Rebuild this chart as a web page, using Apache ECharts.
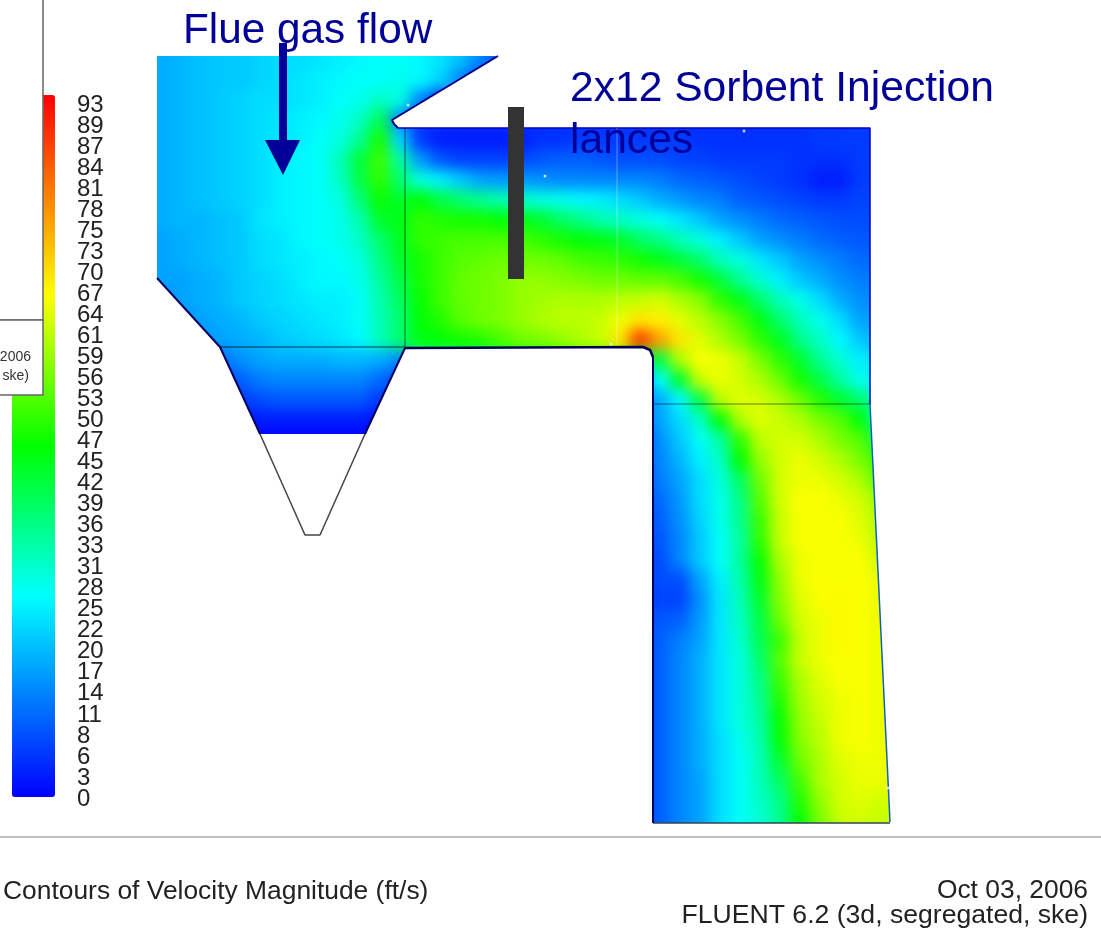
<!DOCTYPE html>
<html>
<head>
<meta charset="utf-8">
<title>Contours of Velocity Magnitude</title>
<script src="https://cdn.jsdelivr.net/npm/echarts@6/dist/echarts.min.js"></script>
<style>
  html, body { margin: 0; padding: 0; background: #fff; }
  #main { width: 1101px; height: 942px; }
</style>
</head>
<body>
<div id="main"></div>
<script>
var _ = null;

// velocity (ft/s), one row per 20px
// upper part: y = 40..420, x = 140..880
var upperDuctRows = [
  [17,18,19,20,21,21,22,23,23,24,25,26,27,27, 26,24,20,14,7],
  [17,18,19,20,21,21,22,23,23,24,25,26,27,27, 26,24,20,14,7],
  [17,18,19,20,21,21,22,23,24,25,26,27,27,28, 26,22,14,7],
  [17,18,19,20,21,22,23,23,24,25,27,28,31,29, 14,5],
  [17,18,19,20,21,22,23,24,25,26,28,31,40,14, 6,5,5,5,5, 5,5,5,5,5,5,5, 5,5,5,5,5,5,5,5,5,5,6,6],
  [17,18,19,20,21,22,23,24,25,27,29,35,48,22, 6,3,3,3,3, 3,5,5,6,6,6,6, 6,6,5,5,5,5,5,5,6,6,6,6],
  [17,18,19,20,21,22,23,25,26,27,32,42,51,34, 16,9,7,7,7, 7,9,10,10,9,8,8, 8,7,7,6,6,6,6,5,5,5,6,7],
  [17,18,19,20,21,22,23,25,26,27,31,41,50,38, 29,25,21,17,16, 16,15,14,14,14,14,14, 13,11,10,9,8,7,6,5,3,3,6,7],
  [17,18,19,20,21,22,23,25,26,27,29,37,47,43, 46,41,38,35,33, 31,29,28,26,25,23,21, 18,16,14,13,10,9,8,7,6,6,7,7],
  [17,18,19,19,20,21,24,25,26,27,28,33,43,45, 50,49,48,48,46, 45,43,39,36,33,31,29, 27,24,21,17,15,13,11,10,9,8,8,8],
  [17,17,18,19,20,21,23,24,26,27,28,31,38,44, 50,51,52,52,52, 52,50,48,46,45,43,39, 36,32,29,25,21,17,15,13,11,10,9,9],
  [17,17,18,19,20,21,23,24,25,26,27,29,36,43, 48,51,53,54,55, 55,55,54,52,51,50,48, 45,42,38,32,29,24,21,17,15,13,11,11],
  [17,17,17,18,19,21,22,23,25,26,26,28,34,41, 48,51,54,55,56, 58,58,57,56,55,55,54, 54,52,48,42,35,30,25,21,18,15,13,13],
  [14,14,17,18,19,21,22,23,24,25,25,27,33,39, 47,51,54,55,56, 58,59,60,60,60,61,62, 63,60,57,50,45,38,32,28,23,18,15,14],
  [9,9,14,17,18,19,21,22,23,24,25,27,32,38, 46,49,53,55,56, 58,60,61,61,62,65,69, 68,64,61,57,52,45,38,32,28,23,17,16],
  [5,5,9,14,17,18,19,21,22,23,24,26,32,38, 45,46,48,49,52, 55,56,58,60,62,69,87, 76,69,64,60,56,50,44,36,31,26,21,18],
  [5,5,9,11,11,15,17,18,18,18,19,19,18,14, 36,38,39,41,43, 45,46,48,50,51,53,46, 41,60,66,65,62,56,50,43,35,30,25,23],
  [_,_,_,6,7,10,13,14,14,14,14,14,11,7, 7,_,_,_,_, _,_,_,_,_,_,16, 27,43,62,65,63,60,55,48,41,34,28,25],
  [_,_,_,_,3,6,8,9,9,9,9,9,6,5, _,_,_,_,_, _,_,_,_,_,_,11, 18,26,41,61,64,63,60,55,49,43,38,32],
  [_,_,_,_,_,1,3,3,3,3,3,3,1,_, _,_,_,_,_, _,_,_,_,_,_,11, 17,23,31,46,60,64,62,60,56,53,46,32]
];

// hopper floor at y = 440, x = 240..380
var hopperFloor = [0, 0, 0, 0, 0, 0, 0, 0];

// lower leg: y = 440..840, x = 640..900
var lowerDuctRows = [
  [7,15,21,27,34,50,61,63,63,60,56,53,41,41],
  [7,14,19,25,31,46,58,63,65,63,60,56,50,50],
  [7,13,17,23,29,39,55,63,65,65,63,60,53,53],
  [7,11,16,23,28,36,53,63,66,66,65,63,58,58],
  [6,10,15,22,28,35,51,62,66,66,66,64,60,60],
  [6,9,14,21,27,34,50,62,66,66,66,65,61,61],
  [5,8,14,21,27,34,47,60,65,66,66,66,63,63],
  [5,8,8,17,25,33,45,58,65,66,66,66,65,65],
  [5,7,7,15,24,32,43,57,64,66,67,66,65,65],
  [6,9,10,16,24,31,41,55,63,65,67,66,65,65],
  [6,10,13,17,24,30,40,51,62,65,67,66,65,65],
  [6,10,14,18,24,29,38,53,62,65,66,66,65,65],
  [6,10,14,18,24,29,36,51,60,64,66,66,65,65],
  [6,10,14,18,24,29,35,49,59,63,65,66,65,65],
  [6,10,14,18,24,29,34,47,58,62,65,66,65,65],
  [6,10,14,18,23,28,33,46,57,61,65,66,65,65],
  [6,10,14,18,23,27,32,43,55,60,64,65,65,65],
  [6,10,14,17,23,27,32,39,52,60,63,65,65,65],
  [6,10,14,17,23,27,31,36,49,58,63,64,63,63],
  [6,10,14,17,23,27,30,35,47,56,62,63,62,62],
  [6,10,14,17,23,27,30,35,47,56,62,63,62,62]
];

var colorbarTicks = ['93','89','87','84','81','78','75','73','70','67','64','61','59','56','53','50','47',
  '45','42','39','36','33','31','28','25','22','20','17','14','11','8','6','3','0'];

// evenly spaced along the bar: cyan sits near 27, green near 47, yellow near 67
var colorbarColors = ['#0000ff','#0040ff','#0080ff','#00bfff','#00ffff','#00ffaa','#00ff55','#00ff00',
  '#55ff00','#aaff00','#ffff00','#ffbf00','#ff8000','#ff4000','#ff0000'];

// geometry in page pixels, goes through the overlay value axes
var outsideDuct = [
  [[110,10],[930,10],[930,128],[398,128],[393,124],[392,120],[498,56],[110,56]],
  [[870,128],[930,128],[930,872],[890,872],[890,823],[870,404]],
  [[110,56],[157,56],[157,278],[220,347],[260,434],[365,434],[405,348],[643,347],[650,350],[653,357],[653,823],[890,823],[890,872],[110,872]]
];
var ductWalls = [
  { color: '#000080', width: 2, points: [[498,56],[392,120],[394,124],[398,128]] },
  { color: '#0000c0', width: 1.5, points: [[398,128],[870,128],[870,404]] },
  { color: '#1060c0', width: 1.5, points: [[870,404],[890,822]] },
  { color: '#334455', width: 1.5, points: [[653,823],[890,823]] },
  { color: '#000060', width: 2, points: [[653,357],[653,823]] },
  { color: '#000050', width: 2.5, points: [[405,348],[643,347],[650,350],[653,357]] },
  { color: '#000060', width: 2, points: [[157,278],[220,347],[260,434]] },
  { color: '#000060', width: 2, points: [[405,348],[365,434]] },
  { color: '#444444', width: 1.5, points: [[260,434],[305,535],[320,535],[365,434]] },
  { color: 'rgba(0,0,0,0.55)', width: 1, points: [[405,128],[405,347]] },
  { color: 'rgba(0,0,0,0.7)', width: 1, points: [[220,347],[405,347]] },
  { color: 'rgba(0,0,0,0.5)', width: 1, points: [[653,404],[870,404]] },
  { color: 'rgba(255,255,255,0.35)', width: 1, points: [[617,128],[617,345]] }
];
var meshSpecks = [[408,105],[545,176],[744,131],[611,344],[888,788]];

var fieldCells = [];
upperDuctRows.forEach(function (row, j) {
  row.forEach(function (v, i) {
    if (v !== null) fieldCells.push([i, j, v]);
  });
});
hopperFloor.forEach(function (v, i) {
  fieldCells.push([5 + i, upperDuctRows.length, v]);
});
lowerDuctRows.forEach(function (row, j) {
  row.forEach(function (v, i) {
    fieldCells.push([25 + i, upperDuctRows.length + j, v]);
  });
});

var fieldX = [];
for (var i = 0; i < 39; i++) fieldX.push(String(140 + i * 20));
var fieldY = [];
for (var j = 0; j < upperDuctRows.length + lowerDuctRows.length; j++) fieldY.push(String(40 + j * 20));

var chartDom = document.getElementById('main');
var myChart = echarts.init(chartDom);
var option;

var font = '"Liberation Sans", Arial, sans-serif';
var navy = '#000099';

function label(x, y, text, size, color, align) {
  return {
    type: 'text', x: x, y: y, zlevel: 1, z: 20,
    style: { text: text, font: size + 'px ' + font, fill: color, align: align || 'left', verticalAlign: 'middle' }
  };
}

var wallSeries = ductWalls.map(function (w) {
  return {
    type: 'line',
    xAxisIndex: 1,
    yAxisIndex: 1,
    zlevel: 1,
    z: 3,
    silent: true,
    animation: false,
    symbol: 'none',
    lineStyle: { color: w.color, width: w.width },
    data: w.points
  };
});

option = {
  backgroundColor: '#ffffff',
  animation: false,
  grid: [
    { left: 130, top: 30, width: 780, height: 820 },
    { left: 0, top: 0, width: 1101, height: 942 },
    { left: 104, top: 105, width: 1, height: 694 }
  ],
  xAxis: [
    { type: 'category', gridIndex: 0, show: false, data: fieldX, zlevel: 1 },
    { type: 'value', gridIndex: 1, show: false, min: 0, max: 1101, zlevel: 1 },
    { type: 'value', gridIndex: 2, show: false, zlevel: 1 }
  ],
  yAxis: [
    { type: 'category', gridIndex: 0, show: false, inverse: true, data: fieldY, zlevel: 1 },
    { type: 'value', gridIndex: 1, show: false, inverse: true, min: 0, max: 942, zlevel: 1 },
    {
      type: 'category', gridIndex: 2, inverse: true, boundaryGap: false, data: colorbarTicks, zlevel: 1,
      axisLine: { show: false },
      axisTick: { show: false },
      splitLine: { show: false },
      axisLabel: { interval: 0, align: 'left', margin: 27, fontSize: 24, color: '#222', fontFamily: font, lineHeight: 21 }
    }
  ],
  visualMap: {
    type: 'continuous',
    seriesIndex: 0,
    min: 0,
    max: 93,
    left: 12,
    top: 95,
    padding: 0,
    itemWidth: 43,
    itemHeight: 702,
    showLabel: false,
    calculable: false,
    hoverLink: false,
    zlevel: 1,
    z: 5,
    inRange: { color: colorbarColors }
  },
  series: [
    {
      type: 'heatmap',
      xAxisIndex: 0,
      yAxisIndex: 0,
      silent: true,
      animation: false,
      progressive: 0,
      data: fieldCells
    },
    {
      type: 'custom',
      xAxisIndex: 1,
      yAxisIndex: 1,
      zlevel: 1,
      z: 2,
      silent: true,
      animation: false,
      clip: false,
      data: outsideDuct.map(function (p, k) { return [k, k]; }),
      encode: { x: 0, y: 1 },
      renderItem: function (params, api) {
        var pts = outsideDuct[api.value(0)].map(function (p) { return api.coord(p); });
        return { type: 'polygon', shape: { points: pts }, style: { fill: '#ffffff' } };
      }
    },
    {
      type: 'scatter',
      xAxisIndex: 1,
      yAxisIndex: 1,
      zlevel: 1,
      z: 4,
      silent: true,
      animation: false,
      symbolSize: 3,
      itemStyle: { color: '#eef6ff' },
      data: meshSpecks
    }
  ].concat(wallSeries),
  graphic: {
    elements: [
      // window frame covering the top of the colour bar
      { type: 'rect', zlevel: 1, z: 10, shape: { x: -2, y: -2, width: 45, height: 322 }, style: { fill: '#fff', stroke: '#666', lineWidth: 1.5 } },
      { type: 'rect', zlevel: 1, z: 10, shape: { x: -2, y: 320, width: 45, height: 75 }, style: { fill: '#fff', stroke: '#666', lineWidth: 1.5 } },
      label(31, 357, '2006', 14, '#333', 'right'),
      label(29, 376, 'ske)', 14, '#333', 'right'),
      // flow arrow
      { type: 'rect', zlevel: 1, z: 10, shape: { x: 279, y: 43, width: 8, height: 98 }, style: { fill: navy } },
      { type: 'polygon', zlevel: 1, z: 10, shape: { points: [[265, 140], [300, 140], [283, 175]] }, style: { fill: navy } },
      // lance
      { type: 'rect', zlevel: 1, z: 10, shape: { x: 508, y: 107, width: 16, height: 172 }, style: { fill: '#333333' } },
      label(183, 31, 'Flue gas flow', 42.3, navy),
      label(570, 89, '2x12 Sorbent Injection', 42.6, navy),
      label(570, 141, 'lances', 42.6, navy),
      { type: 'line', zlevel: 1, z: 10, shape: { x1: 0, y1: 837, x2: 1101, y2: 837 }, style: { stroke: '#aaaaaa', lineWidth: 1.5 } },
      label(3, 892, 'Contours of Velocity Magnitude (ft/s)', 26.4, '#222'),
      label(1088, 891, 'Oct 03, 2006', 26.4, '#222', 'right'),
      label(1088, 916, 'FLUENT 6.2 (3d, segregated, ske)', 26.6, '#222', 'right')
    ]
  }
};

option && myChart.setOption(option);

// soften the coarse cells: only the heatmap sits on the base canvas
chartDom.querySelector('canvas').style.filter = 'blur(7px)';
</script>
</body>
</html>
